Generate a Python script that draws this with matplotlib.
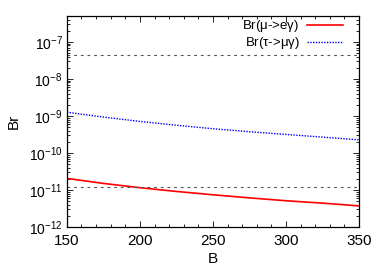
import numpy as np
import matplotlib
matplotlib.use('Agg')
from matplotlib import pyplot as plt
from matplotlib.ticker import LogLocator, MultipleLocator, NullFormatter

plt.rcParams['font.family'] = ['Liberation Sans', 'DejaVu Sans']
plt.rcParams['mathtext.fontset'] = 'custom'
plt.rcParams['mathtext.rm'] = 'Liberation Sans'
plt.rcParams['mathtext.it'] = 'Liberation Sans'

# data
B = [150, 175, 200, 225, 250, 275, 300, 325, 350]
br_mu_e = [2.05e-11, 1.5e-11, 1.15e-11, 9.1e-12, 7.4e-12, 6.1e-12, 5.1e-12, 4.4e-12, 3.7e-12]
br_tau_mu = [1.26e-9, 9.3e-10, 7.1e-10, 5.6e-10, 4.5e-10, 3.75e-10, 3.15e-10, 2.68e-10, 2.25e-10]
limits = [4.4e-8, 1.2e-11]

fig = plt.figure(figsize=(3.82, 2.67), dpi=100)
ax = fig.add_axes([0.175, 0.15, 0.765, 0.79])

ax.plot(B, br_mu_e, color='#ff0000', lw=1.2, label=r'Br($\mu$->e$\gamma$)')
ax.plot(B, br_tau_mu, color='#0000ff', lw=1.0, ls=(0, (1, 1)), label=r'Br($\tau$->$\mu\gamma$)')
for lim in limits:
    ax.axhline(lim, color='#555555', lw=0.8, ls=(0, (2.5, 3.5)))

ax.set_yscale('log')
ax.set_xlim(150, 350)
ax.set_ylim(1e-12, 5e-7)
ax.xaxis.set_major_locator(MultipleLocator(50))
ax.xaxis.set_minor_locator(MultipleLocator(10))
ax.yaxis.set_major_locator(LogLocator(base=10, numticks=20))
ax.yaxis.set_minor_locator(LogLocator(base=10, subs=np.arange(2, 10), numticks=20))
ax.yaxis.set_minor_formatter(NullFormatter())
ax.tick_params(which='both', direction='in', top=True, right=True, width=0.6)
ax.tick_params(which='major', length=4)
ax.tick_params(which='minor', length=2)
ax.tick_params(axis='x', labelsize=11, pad=5)
ax.tick_params(axis='y', labelsize=10, pad=3)
for s in ax.spines.values():
    s.set_linewidth(0.9)

ax.set_xlabel('B', fontsize=11, labelpad=3)
ax.set_ylabel('Br', fontsize=11, labelpad=6)

ax.legend(loc='upper right', bbox_to_anchor=(0.945, 0.99), frameon=False,
          markerfirst=False, fontsize=9.5, handlelength=2.7, borderaxespad=0,
          borderpad=0, labelspacing=0.1, handletextpad=0.6)

fig.savefig('out.png', dpi=100)
